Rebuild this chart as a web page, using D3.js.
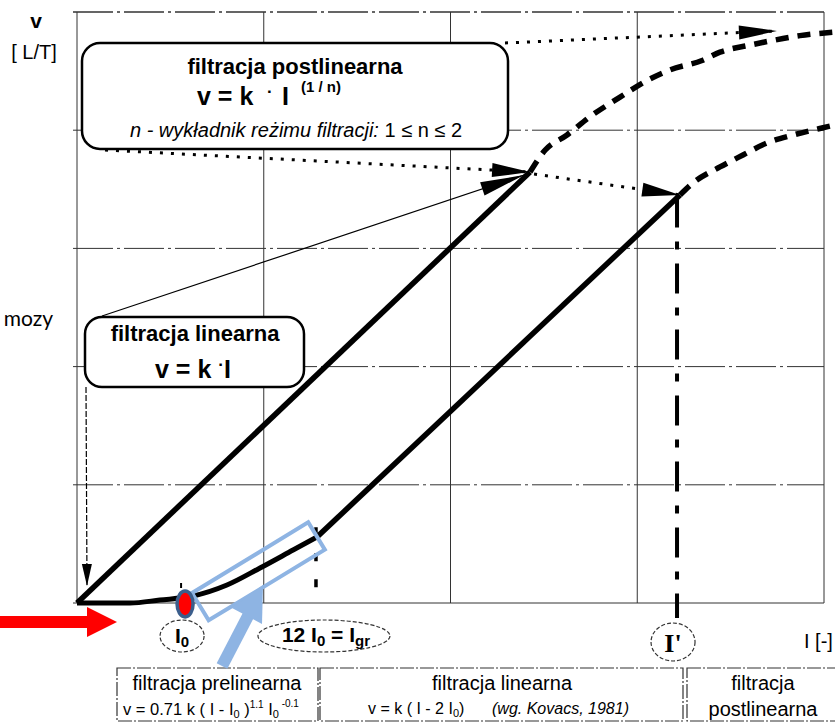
<!DOCTYPE html>
<html><head><meta charset="utf-8">
<script src="https://cdn.jsdelivr.net/npm/d3@7"></script>
<style>
html,body{margin:0;padding:0;background:#fff;}
svg{display:block;font-family:"Liberation Sans",Arial,sans-serif;}
</style></head>
<body>
<svg id="c" width="835" height="724"></svg>
<script>
// ---- data (grid units) ----
const gridX = [0, 1, 2, 3, 4];
const gridY = [0, 1, 2, 3, 4, 5];
// linear filtration line v = k·I
const linearLine = [[0, 0], [2.426, 3.646]];
// postlinear continuation of the upper line
const postUpper = [[2.426, 3.646], [2.506, 3.83], [2.624, 3.96], [2.752, 4.12], [2.908, 4.28], [3.04, 4.41],
  [3.175, 4.51], [3.347, 4.59], [3.443, 4.66], [3.604, 4.72], [3.727, 4.76], [3.871, 4.80], [4.059, 4.83]];
// prelinear curve (Kovacs)
const preCurve = [[0, 0], [0.284, 0.0], [0.444, 0.025], [0.621, 0.059], [0.803, 0.152], [0.98, 0.296],
  [1.157, 0.448], [1.285, 0.558]];
// linear part of the lower line v = k(I - 2I0)
const linearLine2 = [[1.285, 0.558], [3.229, 3.452]];
// postlinear continuation of the lower line
const postLower = [[3.229, 3.452], [3.298, 3.553], [3.443, 3.689], [3.566, 3.79], [3.695, 3.892],
  [3.834, 3.959], [3.989, 4.019], [4.059, 4.044]];
const I0 = 0.568, Igr = 1.285, Iprime = 3.213;
const upperTarget = [3.748, 4.84];

// ---- scales ----
const x = d3.scaleLinear().domain([0, 4]).range([77, 824]);
const y = d3.scaleLinear().domain([0, 5]).range([603, 12]);
const svg = d3.select("#c");
const line = d3.line().x(d => x(d[0])).y(d => y(d[1]));
const curve = d3.line().x(d => x(d[0])).y(d => y(d[1])).curve(d3.curveMonotoneX);

// markers
const defs = svg.append("defs");
function marker(id, len, half) {
  defs.append("marker").attr("id", id).attr("markerUnits", "userSpaceOnUse")
    .attr("viewBox", `${-len - 1} ${-half - 1} ${len + 2} ${2 * half + 2}`)
    .attr("markerWidth", len + 2).attr("markerHeight", 2 * half + 2)
    .attr("refX", 0).attr("refY", 0).attr("orient", "auto")
    .append("path").attr("d", `M0,0 L${-len},${-half} L${-len},${half} Z`).attr("fill", "#000");
}
marker("headBig", 38, 7);
marker("headThin", 44, 7);
marker("headSmall", 22, 5);

// ---- grid ----
const g = svg.append("g");
gridX.forEach(v => g.append("line").attr("x1", x(v)).attr("x2", x(v)).attr("y1", y(5)).attr("y2", y(0))
  .attr("stroke", "#333").attr("stroke-width", 1));
gridY.forEach(v => g.append("line").attr("x1", x(0) - 4).attr("x2", x(4)).attr("y1", y(v)).attr("y2", y(v))
  .attr("stroke", "#333").attr("stroke-width", v === 5 ? 1.6 : 1)
  .attr("stroke-dasharray", v === 0 ? null : "40,4,3,4"));

// ---- dotted vertical markers ----
svg.append("line").attr("x1", x(Igr) - 1).attr("x2", x(Igr) - 1).attr("y1", y(0.64)).attr("y2", y(0))
  .attr("stroke", "#000").attr("stroke-width", 3.5).attr("stroke-dasharray", "8,18");
svg.append("line").attr("x1", x(Iprime)).attr("x2", x(Iprime)).attr("y1", y(3.43)).attr("y2", 618)
  .attr("stroke", "#000").attr("stroke-width", 4).attr("stroke-dasharray", "30,14,8,14");
svg.append("line").attr("x1", x(I0) - 2).attr("x2", x(I0) - 2).attr("y1", 583).attr("y2", 588)
  .attr("stroke", "#000").attr("stroke-width", 2);

// ---- curves ----
svg.append("path").attr("d", line(linearLine)).attr("fill", "none").attr("stroke", "#000").attr("stroke-width", 5.5);
svg.append("path").attr("d", curve(postUpper)).attr("fill", "none").attr("stroke", "#000").attr("stroke-width", 5.5)
  .attr("stroke-dasharray", "13,9");
svg.append("path").attr("d", curve(preCurve)).attr("fill", "none").attr("stroke", "#000").attr("stroke-width", 5);
svg.append("path").attr("d", line(linearLine2)).attr("fill", "none").attr("stroke", "#000").attr("stroke-width", 5.5);
svg.append("path").attr("d", curve(postLower)).attr("fill", "none").attr("stroke", "#000").attr("stroke-width", 5.5)
  .attr("stroke-dasharray", "13,9");

// ---- annotation arrows ----
const endUp = linearLine[1], endLow = linearLine2[1];
svg.append("line").attr("x1", 505).attr("y1", 43).attr("x2", x(upperTarget[0])).attr("y2", y(upperTarget[1]))
  .attr("stroke", "#000").attr("stroke-width", 3).attr("stroke-dasharray", "3,8").attr("marker-end", "url(#headBig)");
svg.append("line").attr("x1", 105).attr("y1", 150).attr("x2", x(endUp[0])).attr("y2", y(endUp[1]))
  .attr("stroke", "#000").attr("stroke-width", 3).attr("stroke-dasharray", "3,8").attr("marker-end", "url(#headBig)");
svg.append("line").attr("x1", x(endUp[0]) + 4).attr("y1", y(endUp[1]) + 2).attr("x2", x(endLow[0])).attr("y2", y(endLow[1]))
  .attr("stroke", "#000").attr("stroke-width", 3).attr("stroke-dasharray", "3,8").attr("marker-end", "url(#headBig)");
svg.append("line").attr("x1", 102).attr("y1", 316).attr("x2", x(endUp[0]) - 6).attr("y2", y(endUp[1]) + 3)
  .attr("stroke", "#000").attr("stroke-width", 1.2).attr("marker-end", "url(#headThin)");
svg.append("line").attr("x1", 86).attr("y1", 387).attr("x2", 87).attr("y2", 586)
  .attr("stroke", "#000").attr("stroke-width", 1.2).attr("stroke-dasharray", "6,2").attr("marker-end", "url(#headSmall)");

// ---- boxes ----
function rbox(x0, y0, w, h, r) {
  svg.append("rect").attr("x", x0).attr("y", y0).attr("width", w).attr("height", h).attr("rx", r).attr("ry", r)
    .attr("fill", "#fff").attr("stroke", "#000").attr("stroke-width", 2.5);
}
rbox(82, 43, 426, 106, 18);
svg.append("text").attr("x", 295).attr("y", 74).attr("text-anchor", "middle")
  .attr("font-size", 22).attr("font-weight", "bold").text("filtracja postlinearna");
const t2 = svg.append("text").attr("x", 197).attr("y", 105)
  .attr("font-size", 25).attr("font-weight", "bold");
t2.append("tspan").text("v = k");
t2.append("tspan").attr("x", 267).attr("dy", -8).attr("font-size", 17).text("·");
t2.append("tspan").attr("x", 282).attr("dy", 8).text("I");
t2.append("tspan").attr("x", 301).attr("dy", -13).attr("font-size", 15).text("(1 / n)");
const t3 = svg.append("text").attr("x", 296).attr("y", 137).attr("text-anchor", "middle").attr("font-size", 20);
t3.append("tspan").attr("font-style", "italic").text("n - wykładnik reżimu filtracji:");
t3.append("tspan").text(" 1 ≤ n ≤ 2");

rbox(85, 317, 219, 70, 17);
svg.append("text").attr("x", 195).attr("y", 341).attr("text-anchor", "middle")
  .attr("font-size", 22).attr("font-weight", "bold").text("filtracja linearna");
const t4 = svg.append("text").attr("x", 155).attr("y", 378)
  .attr("font-size", 25).attr("font-weight", "bold");
t4.append("tspan").text("v = k ");
t4.append("tspan").attr("dy", -8).attr("font-size", 17).text("·");
t4.append("tspan").attr("dy", 8).text("I");

// axis labels
svg.append("text").attr("x", 36).attr("y", 28).attr("text-anchor", "middle").attr("font-size", 21)
  .attr("font-weight", "bold").text("v");
svg.append("text").attr("x", 34).attr("y", 59).attr("text-anchor", "middle").attr("font-size", 20).text("[ L/T]");
svg.append("text").attr("x", 53).attr("y", 326).attr("text-anchor", "end").attr("font-size", 21)
  .attr("font-family", "Lato, 'Open Sans', sans-serif").text("mozy");

// ---- labels under the axis ----
function dellipse(cx, cy, rx, ry) {
  svg.append("ellipse").attr("cx", cx).attr("cy", cy).attr("rx", rx).attr("ry", ry)
    .attr("fill", "none").attr("stroke", "#333").attr("stroke-width", 1.2).attr("stroke-dasharray", "4,2");
}
dellipse(x(I0) - 1, 636, 22, 16);
const l1 = svg.append("text").attr("x", x(I0) - 1).attr("y", 643).attr("text-anchor", "middle")
  .attr("font-size", 21).attr("font-weight", "bold");
l1.append("tspan").text("I");
l1.append("tspan").attr("dy", 4).attr("font-size", 15).text("0");
dellipse(x(Igr) + 7, 636, 66, 16);
const l2 = svg.append("text").attr("x", x(Igr) + 9).attr("y", 642).attr("text-anchor", "middle")
  .attr("font-size", 21).attr("font-weight", "bold");
l2.append("tspan").text("12 I");
l2.append("tspan").attr("dy", 4).attr("font-size", 15).text("0");
l2.append("tspan").attr("dy", -4).text(" = I");
l2.append("tspan").attr("dy", 4).attr("font-size", 15).text("gr");
dellipse(x(Iprime) - 4, 642, 22, 19);
svg.append("text").attr("x", x(Iprime) - 4).attr("y", 652).attr("text-anchor", "middle")
  .attr("font-size", 26).attr("font-weight", "bold").attr("font-family", "'Liberation Serif', serif").text("I'");
svg.append("text").attr("x", 804).attr("y", 648).attr("font-size", 20).text("I [-]");

// ---- bottom table ----
function tbox(x0, y0, w, h) {
  svg.append("rect").attr("x", x0).attr("y", y0).attr("width", w).attr("height", h)
    .attr("fill", "none").attr("stroke", "#333").attr("stroke-width", 1.2).attr("stroke-dasharray", "14,2,2,2");
}
tbox(117, 668, 201, 53);
tbox(320, 668, 363, 53);
tbox(687, 668, 152, 53);
svg.append("text").attr("x", 217).attr("y", 690).attr("text-anchor", "middle").attr("font-size", 20).text("filtracja prelinearna");
const f1 = svg.append("text").attr("x", 123).attr("y", 715).attr("font-size", 16.5);
f1.append("tspan").text("v = 0.71 k ( I - I");
f1.append("tspan").attr("dy", 3).attr("font-size", 11).text("0");
f1.append("tspan").attr("dy", -3).text(" )");
f1.append("tspan").attr("dy", -7).attr("font-size", 10).text("1.1");
f1.append("tspan").attr("dy", 7).text(" I");
f1.append("tspan").attr("dy", 3).attr("font-size", 11).text("0");
f1.append("tspan").attr("dy", -11).attr("font-size", 10).text("  -0.1");
svg.append("text").attr("x", 502).attr("y", 690).attr("text-anchor", "middle").attr("font-size", 20).text("filtracja linearna");
const f2 = svg.append("text").attr("x", 368).attr("y", 714).attr("font-size", 16);
f2.append("tspan").text("v = k ( I - 2 I");
f2.append("tspan").attr("dy", 3).attr("font-size", 11).text("0");
f2.append("tspan").attr("dy", -3).text(")");
f2.append("tspan").attr("x", 492).attr("font-style", "italic").text("(wg. Kovacs, 1981)");
svg.append("text").attr("x", 763).attr("y", 690).attr("text-anchor", "middle").attr("font-size", 20).text("filtracja");
svg.append("text").attr("x", 763).attr("y", 716).attr("text-anchor", "middle").attr("font-size", 20).text("postlinearna");

// ---- coloured overlays ----
const ov = svg.append("g");
ov.append("rect").attr("x", 0).attr("y", 0).attr("width", 136).attr("height", 32)
  .attr("transform", "translate(192,593) rotate(-31.3)")
  .attr("fill", "none").attr("stroke", "#8EB4E3").attr("stroke-width", 4);
ov.append("line").attr("x1", 222).attr("y1", 666).attr("x2", 249).attr("y2", 614)
  .attr("stroke", "#8EB4E3").attr("stroke-width", 12);
ov.append("path").attr("d", "M263,585 L232,608 L262,624 Z").attr("fill", "#8EB4E3");
ov.append("ellipse").attr("cx", x(I0) + 2).attr("cy", y(0) + 1).attr("rx", 8).attr("ry", 13)
  .attr("fill", "#ff0000").attr("stroke", "#3B5E8C").attr("stroke-width", 3.5);
ov.append("rect").attr("x", 0).attr("y", 616).attr("width", 90).attr("height", 12).attr("fill", "#ff0000");
ov.append("path").attr("d", "M87,607 L117,622 L87,637 Z").attr("fill", "#ff0000");
</script>
</body></html>
